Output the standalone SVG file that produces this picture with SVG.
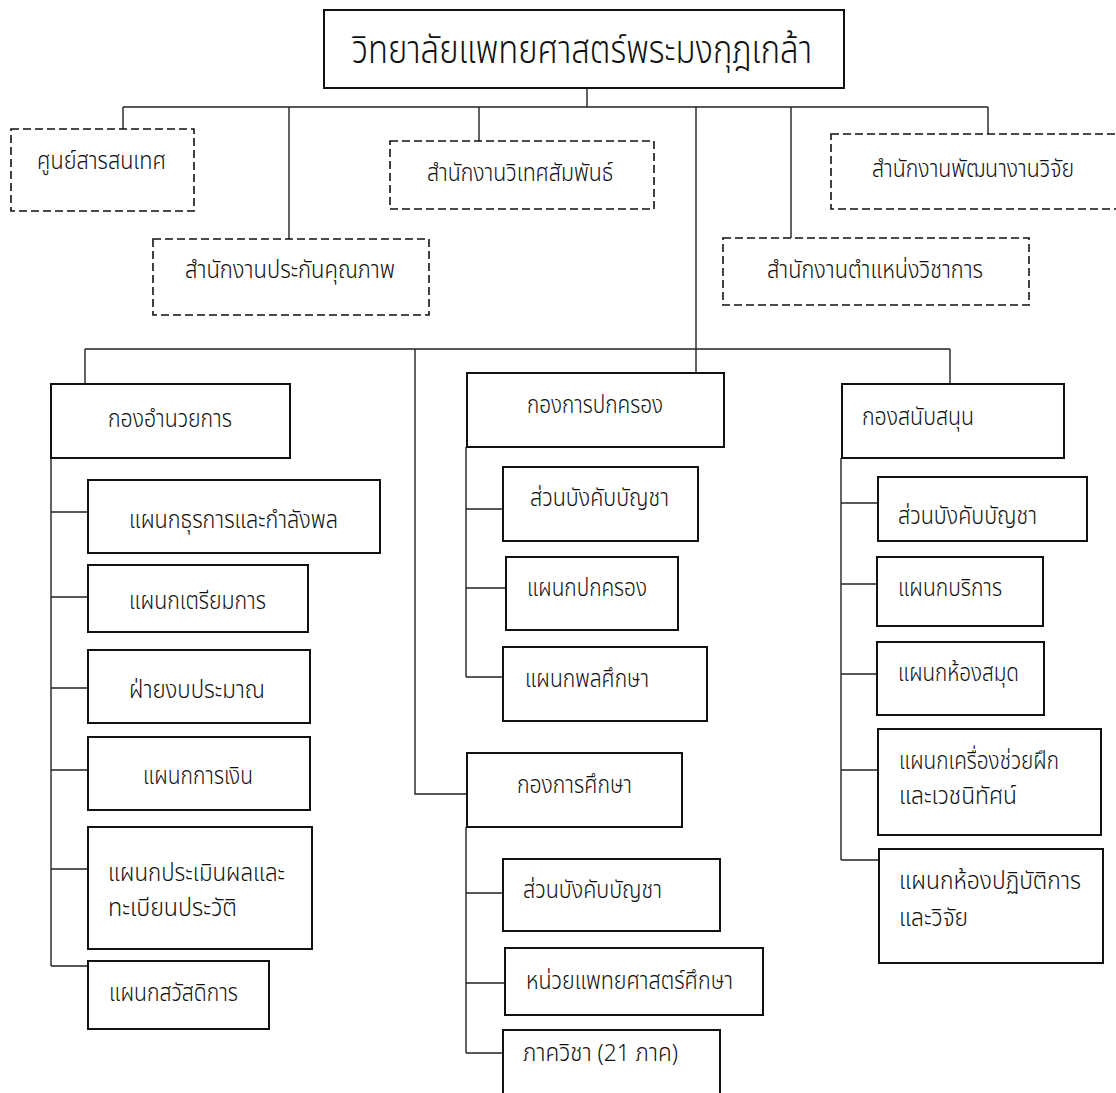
<svg xmlns="http://www.w3.org/2000/svg" width="1116" height="1093" viewBox="0 0 1116 1093">
<style>
.bg{fill:#fff}
.box{fill:#fff;stroke:#111;stroke-width:2}
.dbox{fill:#fff;stroke:#111;stroke-width:1.6;stroke-dasharray:8 4}
.ln{fill:none;stroke:#222;stroke-width:1.4}
text{font-family:"Noto Sans Thai","Noto Sans","DejaVu Sans",sans-serif;font-size:24px;font-weight:300;fill:#111}
.big{font-size:40px}
</style>
<rect class="bg" x="0" y="0" width="1116" height="1093"/>
<g id="connectors">
<path class="ln" d="M587,88V107M123,107H988M123,107V129M289,107V239M479,107V141M696,107V373M791,107V238M988,107V134"/>
<path class="ln" d="M85,349H950M85,349V384M415,349V794H467M950,349V384"/>
<path class="ln" d="M51,458V966M51,512H88M51,597H88M51,688H88M51,770H88M51,869H88M51,966H88"/>
<path class="ln" d="M466,447V677M466,509H503M466,588H506M466,677H503"/>
<path class="ln" d="M466,827V1053M466,893H503M466,983H505M466,1053H503"/>
<path class="ln" d="M841,458V860M841,503H878M841,584H877M841,674H877M841,770H878M841,860H879"/>
</g>
<g id="root"><rect class="box" x="324" y="10" width="520" height="78"/><text class="big" x="352" y="63" textLength="460" lengthAdjust="spacingAndGlyphs">วิทยาลัยแพทยศาสตร์พระมงกุฎเกล้า</text></g>
<g id="n-info"><rect class="dbox" x="11" y="129" width="183" height="82"/><text x="37" y="169" textLength="129" lengthAdjust="spacingAndGlyphs">ศูนย์สารสนเทศ</text></g>
<g id="n-qa"><rect class="dbox" x="153" y="239" width="276" height="76"/><text x="185" y="278" textLength="210" lengthAdjust="spacingAndGlyphs">สำนักงานประกันคุณภาพ</text></g>
<g id="n-intl"><rect class="dbox" x="390" y="141" width="264" height="68"/><text x="427" y="181" textLength="186" lengthAdjust="spacingAndGlyphs">สำนักงานวิเทศสัมพันธ์</text></g>
<g id="n-research"><rect class="dbox" x="831" y="134" width="300" height="75"/><text x="872" y="177" textLength="202" lengthAdjust="spacingAndGlyphs">สำนักงานพัฒนางานวิจัย</text></g>
<g id="n-acad"><rect class="dbox" x="723" y="238" width="306" height="67"/><text x="767" y="278" textLength="216" lengthAdjust="spacingAndGlyphs">สำนักงานตำแหน่งวิชาการ</text></g>

<g id="d-admin"><rect class="box" x="51" y="384" width="239" height="74"/><text x="108" y="427" textLength="124" lengthAdjust="spacingAndGlyphs">กองอำนวยการ</text></g>
<g id="a1"><rect class="box" x="88" y="480" width="292" height="73"/><text x="129" y="528" textLength="209" lengthAdjust="spacingAndGlyphs">แผนกธุรการและกำลังพล</text></g>
<g id="a2"><rect class="box" x="88" y="565" width="220" height="67"/><text x="129" y="609" textLength="137" lengthAdjust="spacingAndGlyphs">แผนกเตรียมการ</text></g>
<g id="a3"><rect class="box" x="88" y="650" width="222" height="73"/><text x="129" y="698" textLength="136" lengthAdjust="spacingAndGlyphs">ฝ่ายงบประมาณ</text></g>
<g id="a4"><rect class="box" x="88" y="737" width="222" height="73"/><text x="143" y="784" textLength="110" lengthAdjust="spacingAndGlyphs">แผนกการเงิน</text></g>
<g id="a5"><rect class="box" x="88" y="827" width="224" height="122"/><text x="108" y="881" textLength="177" lengthAdjust="spacingAndGlyphs">แผนกประเมินผลและ</text><text x="108" y="916" textLength="129" lengthAdjust="spacingAndGlyphs">ทะเบียนประวัติ</text></g>
<g id="a6"><rect class="box" x="88" y="961" width="181" height="68"/><text x="109" y="1001" textLength="129" lengthAdjust="spacingAndGlyphs">แผนกสวัสดิการ</text></g>

<g id="d-gov"><rect class="box" x="467" y="373" width="257" height="74"/><text x="527" y="413" textLength="136" lengthAdjust="spacingAndGlyphs">กองการปกครอง</text></g>
<g id="g1"><rect class="box" x="503" y="467" width="195" height="74"/><text x="530" y="506" textLength="139" lengthAdjust="spacingAndGlyphs">ส่วนบังคับบัญชา</text></g>
<g id="g2"><rect class="box" x="506" y="557" width="172" height="73"/><text x="527" y="596" textLength="120" lengthAdjust="spacingAndGlyphs">แผนกปกครอง</text></g>
<g id="g3"><rect class="box" x="503" y="647" width="204" height="74"/><text x="525" y="687" textLength="124" lengthAdjust="spacingAndGlyphs">แผนกพลศึกษา</text></g>

<g id="d-edu"><rect class="box" x="467" y="753" width="215" height="74"/><text x="517" y="793" textLength="115" lengthAdjust="spacingAndGlyphs">กองการศึกษา</text></g>
<g id="e1"><rect class="box" x="503" y="859" width="217" height="72"/><text x="523" y="898" textLength="139" lengthAdjust="spacingAndGlyphs">ส่วนบังคับบัญชา</text></g>
<g id="e2"><rect class="box" x="505" y="948" width="258" height="67"/><text x="526" y="989" textLength="207" lengthAdjust="spacingAndGlyphs">หน่วยแพทยศาสตร์ศึกษา</text></g>
<g id="e3"><rect class="box" x="503" y="1030" width="217" height="80"/><text x="523" y="1061" textLength="155" lengthAdjust="spacingAndGlyphs">ภาควิชา (21 ภาค)</text></g>

<g id="d-sup"><rect class="box" x="842" y="384" width="222" height="74"/><text x="862" y="425" textLength="112" lengthAdjust="spacingAndGlyphs">กองสนับสนุน</text></g>
<g id="s1"><rect class="box" x="878" y="477" width="209" height="64"/><text x="898" y="524" textLength="139" lengthAdjust="spacingAndGlyphs">ส่วนบังคับบัญชา</text></g>
<g id="s2"><rect class="box" x="877" y="557" width="166" height="69"/><text x="898" y="596" textLength="104" lengthAdjust="spacingAndGlyphs">แผนกบริการ</text></g>
<g id="s3"><rect class="box" x="877" y="642" width="167" height="73"/><text x="898" y="681" textLength="121" lengthAdjust="spacingAndGlyphs">แผนกห้องสมุด</text></g>
<g id="s4"><rect class="box" x="878" y="729" width="223" height="106"/><text x="899" y="769" textLength="160" lengthAdjust="spacingAndGlyphs">แผนกเครื่องช่วยฝึก</text><text x="899" y="804" textLength="118" lengthAdjust="spacingAndGlyphs">และเวชนิทัศน์</text></g>
<g id="s5"><rect class="box" x="879" y="849" width="224" height="114"/><text x="899" y="889" textLength="182" lengthAdjust="spacingAndGlyphs">แผนกห้องปฏิบัติการ</text><text x="899" y="926" textLength="69" lengthAdjust="spacingAndGlyphs">และวิจัย</text></g>
</svg>
